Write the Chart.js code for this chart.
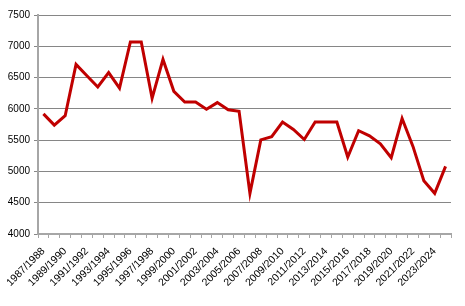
<!DOCTYPE html>
<html>
<head>
<meta charset="utf-8">
<script src="https://cdn.jsdelivr.net/npm/chart.js@4/dist/chart.umd.min.js"></script>
<style>
  html, body { margin: 0; padding: 0; background: #fff; }
  #wrap { width: 465px; height: 306px; }
</style>
</head>
<body>
<div id="wrap"><canvas id="chart" width="465" height="306"></canvas></div>
<script>
// seasons 1987/1988 .. 2024/2025
const seasons = [];
for (let y = 1987; y <= 2024; y++) seasons.push(y + '/' + (y + 1));

const values = [
  5920, 5740, 5890, 6710, 6530, 6350, 6580, 6330, 7070, 7070,
  6170, 6790, 6280, 6110, 6110, 5995, 6100, 5985, 5960, 4650,
  5505, 5555, 5790, 5670, 5510, 5790, 5790, 5790, 5230, 5650,
  5570, 5440, 5220, 5845, 5400, 4850, 4650, 5080
];

const yTicks = { min: 4000, max: 7500, step: 500 };

const yFont = { family: '"Liberation Sans", Arial, sans-serif', size: 10 };
const xFont = { family: '"Liberation Sans", Arial, sans-serif', size: 10.5 };

new Chart(document.getElementById('chart'), {
  type: 'line',
  data: {
    labels: seasons,
    datasets: [{
      data: values,
      borderColor: '#c00000',
      borderWidth: 3,
      pointRadius: 0,
      tension: 0,
      fill: false
    }]
  },
  options: {
    responsive: false,
    animation: false,
    layout: { padding: { left: 0, right: 14, top: 15, bottom: 0 } },
    plugins: { legend: { display: false }, tooltip: { enabled: false } },
    scales: {
      x: {
        offset: true,
        grid: { offset: true, drawOnChartArea: false, color: '#a6a6a6', tickLength: 4 },
        border: { color: '#a6a6a6', width: 2 },
        ticks: {
          autoSkip: false, maxRotation: 45, minRotation: 45,
          color: '#000', font: xFont, padding: 7,
          callback: function (v, i) { return i % 2 === 0 ? this.getLabelForValue(v) : ''; }
        },
        afterFit: (s) => { s.height = 72; }
      },
      y: {
        min: yTicks.min, max: yTicks.max,
        grid: { color: '#868686', tickLength: 4 },
        border: { color: '#a6a6a6', width: 2 },
        ticks: { stepSize: yTicks.step, color: '#000', font: yFont, padding: 4,
          callback: (v) => String(v) },
        afterFit: (s) => { s.width = 38; }
      }
    }
  }
});
</script>
</body>
</html>
